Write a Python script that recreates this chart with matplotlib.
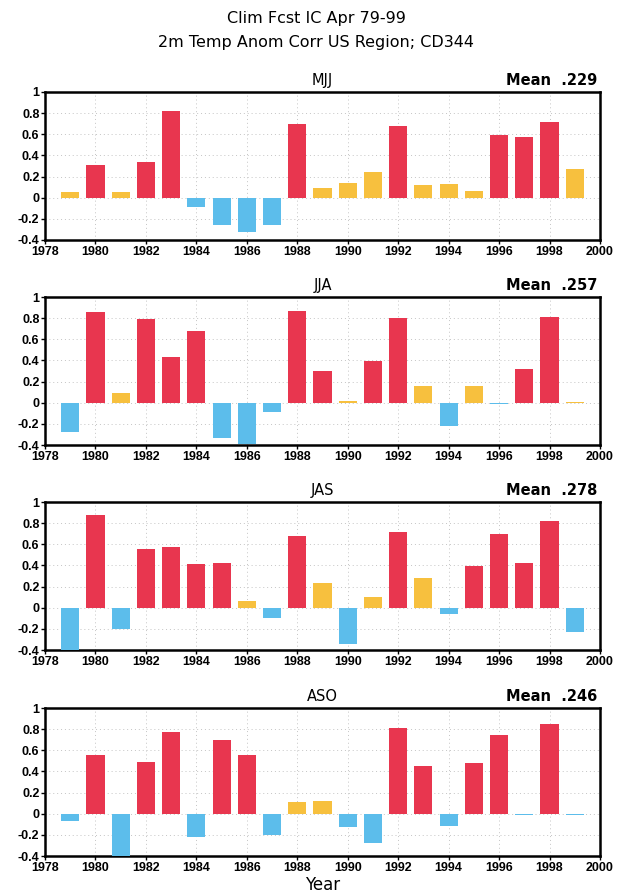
import numpy as np
import matplotlib
matplotlib.use("Agg")
import matplotlib.pyplot as plt

years = np.arange(1979, 2000)

# anomaly correlation per season
mjj = [0.05, 0.31, 0.05, 0.34, 0.82, -0.09, -0.26, -0.32, -0.26, 0.70, 0.09,
       0.14, 0.24, 0.68, 0.12, 0.13, 0.06, 0.59, 0.57, 0.72, 0.27]
jja = [-0.28, 0.86, 0.09, 0.79, 0.43, 0.68, -0.33, -0.39, -0.09, 0.87, 0.30,
       0.02, 0.39, 0.80, 0.16, -0.22, 0.16, -0.01, 0.32, 0.81, 0.01]
jas = [-0.40, 0.88, -0.20, 0.56, 0.57, 0.41, 0.42, 0.06, -0.10, 0.68, 0.23,
       -0.34, 0.10, 0.72, 0.28, -0.06, 0.39, 0.70, 0.42, 0.82, -0.23]
aso = [-0.07, 0.56, -0.40, 0.49, 0.77, -0.22, 0.70, 0.56, -0.20, 0.11, 0.12,
       -0.13, -0.28, 0.81, 0.45, -0.12, 0.48, 0.74, -0.01, 0.85, -0.01]

seasons = ["MJJ", "JJA", "JAS", "ASO"]
means = [".229", ".257", ".278", ".246"]
series = [mjj, jja, jas, aso]

RED = "#E8364F"
YEL = "#F7C03E"
BLUE = "#5CBDEB"


def bar_colors(vals):
    cols = []
    for v in vals:
        if v < 0:
            cols.append(BLUE)
        elif v < 0.3:
            cols.append(YEL)
        else:
            cols.append(RED)
    return cols


fig = plt.figure(figsize=(6.32, 8.96), dpi=100)

fig.text(0.5, 1 - 18 / 896, "Clim Fcst IC Apr 79-99", ha="center", va="center", fontsize=11.5)
fig.text(0.5, 1 - 42 / 896, "2m Temp Anom Corr US Region; CD344", ha="center", va="center", fontsize=11.5)

tops = [92, 297, 502, 708]
left = 45 / 632
width = 555 / 632
height = 148 / 896

for i, (name, mean, vals) in enumerate(zip(seasons, means, series)):
    bottom = 1 - (tops[i] + 148) / 896
    ax = fig.add_axes([left, bottom, width, height])
    ax.bar(years, vals, width=0.72, color=bar_colors(vals), zorder=3)
    ax.set_xlim(1978, 2000)
    ax.set_ylim(-0.4, 1.0)
    ax.set_xticks(np.arange(1978, 2001, 2))
    yt = np.arange(-0.4, 1.01, 0.2)
    ax.set_yticks(yt)
    ax.set_yticklabels(["-0.4", "-0.2", "0", "0.2", "0.4", "0.6", "0.8", "1"])
    ax.grid(True, color="#c4c4c4", linestyle=(0, (1, 3)), linewidth=0.7, zorder=0)
    for sp in ax.spines.values():
        sp.set_linewidth(1.8)
    ax.tick_params(length=3, width=1, pad=1.0)
    for lab in ax.get_xticklabels() + ax.get_yticklabels():
        lab.set_fontfamily("Liberation Sans")
        lab.set_fontweight("bold")
        lab.set_fontsize(9)
    ax.text(0.5, 1.08, name, transform=ax.transAxes, ha="center", va="center", fontsize=10.5)
    ax.text(0.995, 1.08, "Mean  " + mean, transform=ax.transAxes, ha="right", va="center",
            fontsize=10.5, fontweight="bold")
    if i == 3:
        ax.set_xlabel("Year", fontsize=12, labelpad=2)

fig.savefig("out.png", dpi=100)
